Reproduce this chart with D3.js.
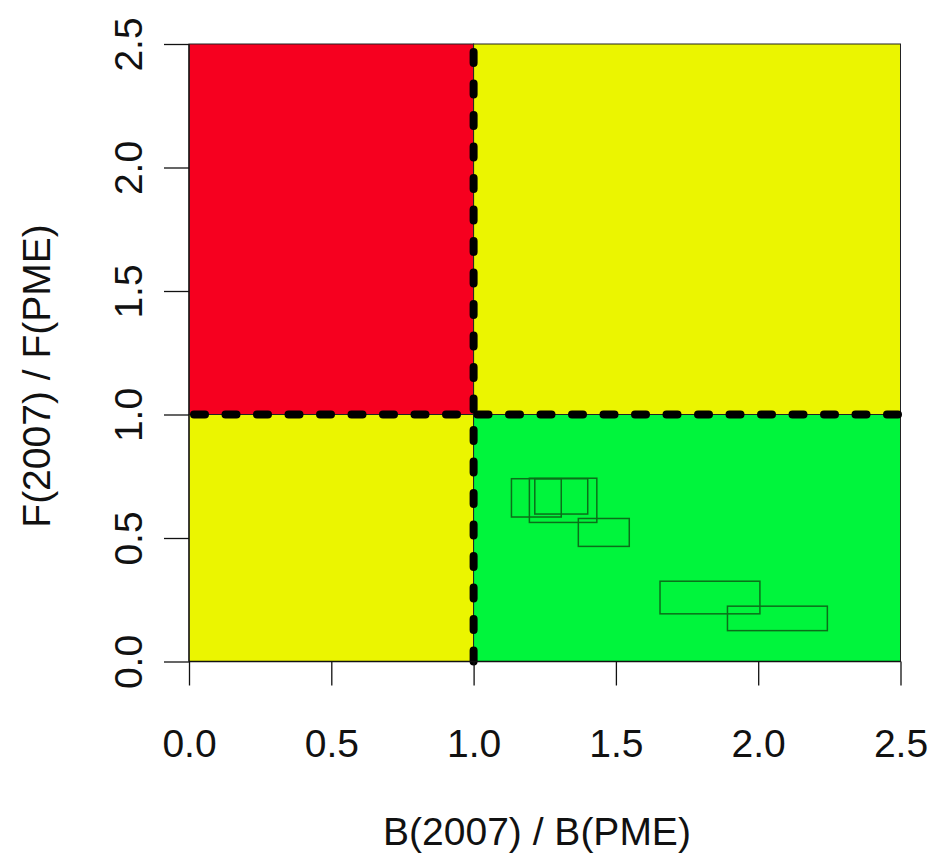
<!DOCTYPE html>
<html>
<head>
<meta charset="utf-8">
<script src="https://cdn.jsdelivr.net/npm/d3@7/dist/d3.min.js"></script>
<style>
  html, body { margin: 0; padding: 0; background: #fff; }
  svg { display: block; }
  text { font-family: "Liberation Sans", Arial, sans-serif; fill: #111; }
</style>
</head>
<body>
<svg id="chart" width="932" height="854"></svg>
<script>
// ---- data ----
const xTicks = [0, 0.5, 1, 1.5, 2, 2.5];
const yTicks = [0, 0.5, 1, 1.5, 2, 2.5];
const xTickLabels = ["0.0", "0.5", "1.0", "1.5", "2.0", "2.5"];
const yTickLabels = ["0.0", "0.5", "1.0", "1.5", "2.0", "2.5"];
const xTitle = "B(2007) / B(PME)";
const yTitle = "F(2007) / F(PME)";

// quadrant zones
const zoneX0 = [0, 1, 0, 1];
const zoneX1 = [1, 2.5, 1, 2.5];
const zoneY0 = [1, 1, 0, 0];
const zoneY1 = [2.5, 2.5, 1, 1];
const zoneName = ["red", "yellow", "yellow", "green"];

// reference lines
const refX = 1;
const refY = 1;

// uncertainty boxes
const boxXMin = [1.133, 1.196, 1.215, 1.368, 1.655, 1.892];
const boxXMax = [1.308, 1.433, 1.401, 1.547, 2.006, 2.243];
const boxYMin = [0.585, 0.563, 0.597, 0.466, 0.193, 0.125];
const boxYMax = [0.740, 0.742, 0.740, 0.579, 0.325, 0.224];

// ---- drawing ----
const colors = { red: "#F6001F", yellow: "#EBF500", green: "#00F53C" };
const FONT = "39px";
const svg = d3.select("#chart");
const x = d3.scaleLinear().domain([0, 2.5]).range([189, 900.5]);
const y = d3.scaleLinear().domain([0, 2.5]).range([661.5, 44]);

// zones
svg.append("g").selectAll("rect")
  .data(zoneName.map((c, i) => ({ c, x0: zoneX0[i], x1: zoneX1[i], y0: zoneY0[i], y1: zoneY1[i] })))
  .join("rect")
  .attr("x", d => x(d.x0))
  .attr("y", d => y(d.y1))
  .attr("width", d => x(d.x1) - x(d.x0))
  .attr("height", d => y(d.y0) - y(d.y1))
  .attr("fill", d => colors[d.c])
  .attr("stroke", "#222")
  .attr("stroke-width", 1);

// boxes
svg.append("g").selectAll("rect")
  .data(boxXMin.map((v, i) => ({ x0: v, x1: boxXMax[i], y0: boxYMin[i], y1: boxYMax[i] })))
  .join("rect")
  .attr("x", d => x(d.x0))
  .attr("y", d => y(d.y1))
  .attr("width", d => x(d.x1) - x(d.x0))
  .attr("height", d => y(d.y0) - y(d.y1))
  .attr("fill", "none")
  .attr("stroke", "#0b6e1a")
  .attr("stroke-width", 1.5);

// dashed reference lines
const dash = { "stroke": "#000", "stroke-width": 8, "stroke-dasharray": "11,20.5", "stroke-linecap": "round" };
const vline = svg.append("line")
  .attr("x1", x(refX)).attr("x2", x(refX))
  .attr("y1", y(2.5) + 8).attr("y2", y(0));
const hline = svg.append("line")
  .attr("x1", x(0) + 5).attr("x2", x(2.5))
  .attr("y1", y(refY)).attr("y2", y(refY));
[vline, hline].forEach(l => Object.entries(dash).forEach(([k, v]) => l.attr(k, v)));

// axes
const xAxis = d3.axisBottom(x).tickValues(xTicks).tickFormat((d, i) => xTickLabels[i]).tickSize(24).tickPadding(44);
const gx = svg.append("g").attr("transform", `translate(0,${y(0)})`).call(xAxis);
gx.select(".domain").attr("stroke", "#111").attr("stroke-width", 1.3).attr("d", `M${x(0)},0H${x(2.5)}`);
gx.selectAll(".tick line").attr("stroke", "#111").attr("stroke-width", 1.3);
gx.selectAll(".tick text").style("font-size", FONT).attr("fill", "#111")
  .style("font-family", "'Liberation Sans', Arial, sans-serif");

const yAxis = d3.axisLeft(y).tickValues(yTicks).tickFormat((d, i) => yTickLabels[i]).tickSize(25).tickPadding(0);
const gy = svg.append("g").attr("transform", `translate(${x(0)},0)`).call(yAxis);
gy.select(".domain").attr("stroke", "#111").attr("stroke-width", 1.3).attr("d", `M0,${y(0)}V${y(2.5)}`);
gy.selectAll(".tick line").attr("stroke", "#111").attr("stroke-width", 1.3);
gy.selectAll(".tick text").style("font-size", FONT).attr("fill", "#111")
  .style("font-family", "'Liberation Sans', Arial, sans-serif")
  .attr("x", null).attr("dy", null)
  .attr("text-anchor", "middle")
  .attr("transform", "translate(-47,0) rotate(-90)");

// titles
svg.append("text")
  .attr("x", 537).attr("y", 845)
  .attr("text-anchor", "middle").style("font-size", FONT).text(xTitle);
svg.append("text")
  .attr("transform", `translate(50,376) rotate(-90)`)
  .attr("text-anchor", "middle").style("font-size", FONT).text(yTitle);
</script>
</body>
</html>
